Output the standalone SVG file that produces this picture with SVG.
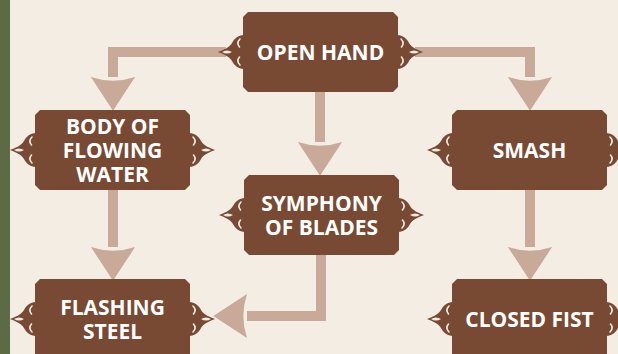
<svg xmlns="http://www.w3.org/2000/svg" width="618" height="354" viewBox="0 0 618 354">
<style>
.box{fill:#784a33}
.lbl{font-family:"Open Sans","Noto Sans",sans-serif;font-weight:700;font-size:21px;fill:#ffffff;text-anchor:middle}
.con{fill:none;stroke:#c9aa98;stroke-width:10;stroke-linejoin:miter;stroke-linecap:butt}
.hole{fill:#f3ede3}
.holeS{fill:none;stroke:#f3ede3;stroke-width:1.6;stroke-linecap:round}
</style>
<defs>
<marker id="ah" markerUnits="userSpaceOnUse" markerWidth="40" markerHeight="50" viewBox="-2 -23 38 46" refX="0" refY="0" orient="auto">
<path d="M0,-21 L32,0 L0,21 Q7,0 0,-21 Z" fill="#c9aa98"/>
</marker>
<g id="orn">
<path class="box" d="M1,-17 C-5,-17 -9,-13 -11,-9 C-14,-4 -20,-2 -25,0 C-20,2 -14,4 -11,9 C-9,13 -5,17 1,17 Z"/>
<path class="hole" d="M-21,0 Q-16,-3.2 -11,0 Q-16,3.2 -21,0 Z"/>
<path class="holeS" d="M-3,-13 Q-7,-9 -3.5,-5"/>
<path class="holeS" d="M-3,13 Q-7,9 -3.5,5"/>
</g>
<path id="bx" class="box" d="M5,0 H150 L155,5 V75 L150,80 H5 L0,75 V5 Z"/>
</defs>
<rect x="0" y="0" width="618" height="354" fill="#f3ede3"/>
<rect x="0" y="0" width="10" height="354" fill="#5c6a46"/>
<g id="connectors">
<path class="con" d="M226,52 H113 V77" marker-end="url(#ah)"/>
<path class="con" d="M415,52 H530 V77" marker-end="url(#ah)"/>
<path class="con" d="M320,91 V142" marker-end="url(#ah)"/>
<path class="con" d="M113,189 V247" marker-end="url(#ah)"/>
<path class="con" d="M530,189 V247" marker-end="url(#ah)"/>
<path class="con" d="M321,254 V316 H247" marker-end="url(#ah)"/>
</g>
<g id="open-hand">
<use href="#bx" x="243" y="12"/>
<use href="#orn" transform="translate(243,52)"/>
<use href="#orn" transform="translate(398,52) scale(-1,1)"/>
<text class="lbl" x="320.5" y="60">OPEN HAND</text>
</g>
<g id="body-of-flowing-water">
<use href="#bx" x="35" y="110"/>
<use href="#orn" transform="translate(35,150)"/>
<use href="#orn" transform="translate(190,150) scale(-1,1)"/>
<text class="lbl" x="112.5" y="134">BODY OF</text>
<text class="lbl" x="112.5" y="158">FLOWING</text>
<text class="lbl" x="112.5" y="182">WATER</text>
</g>
<g id="symphony-of-blades">
<use href="#bx" x="244" y="175"/>
<use href="#orn" transform="translate(244,215)"/>
<use href="#orn" transform="translate(399,215) scale(-1,1)"/>
<text class="lbl" x="321.5" y="211">SYMPHONY</text>
<text class="lbl" x="321.5" y="235">OF BLADES</text>
</g>
<g id="smash">
<use href="#bx" x="452" y="110"/>
<use href="#orn" transform="translate(452,150)"/>
<use href="#orn" transform="translate(607,150) scale(-1,1)"/>
<text class="lbl" x="529.5" y="158">SMASH</text>
</g>
<g id="flashing-steel">
<use href="#bx" x="35" y="279"/>
<use href="#orn" transform="translate(35,319)"/>
<use href="#orn" transform="translate(190,319) scale(-1,1)"/>
<text class="lbl" x="112.5" y="315">FLASHING</text>
<text class="lbl" x="112.5" y="339">STEEL</text>
</g>
<g id="closed-fist">
<use href="#bx" x="452" y="279"/>
<use href="#orn" transform="translate(452,319)"/>
<use href="#orn" transform="translate(607,319) scale(-1,1)"/>
<text class="lbl" x="529.5" y="327">CLOSED FIST</text>
</g>
</svg>
